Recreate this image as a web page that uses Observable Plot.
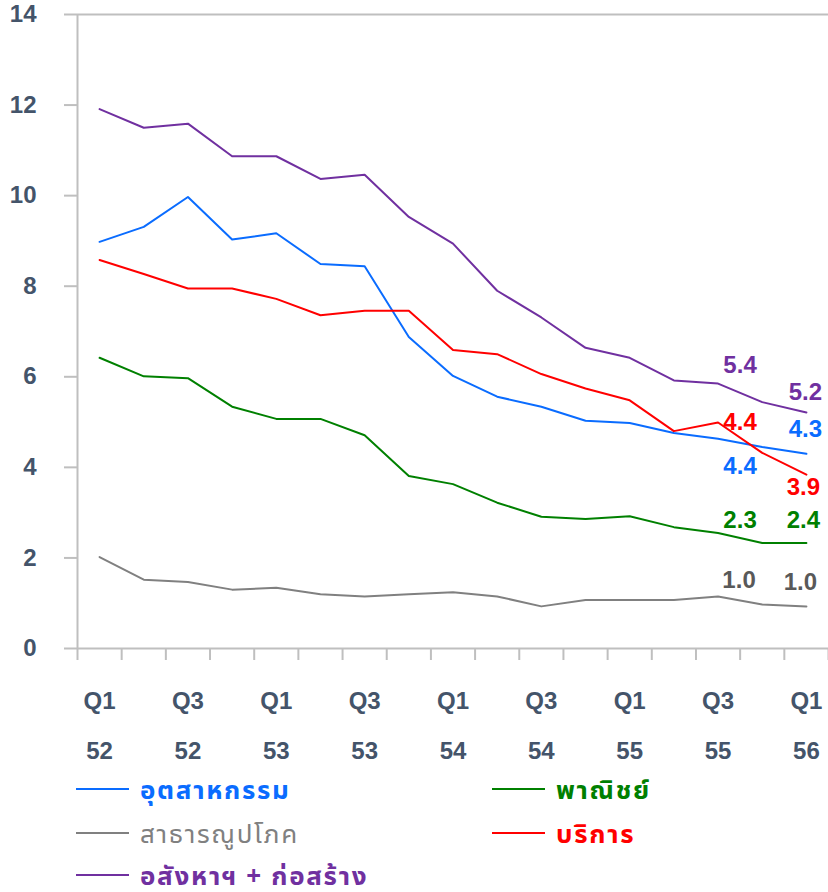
<!DOCTYPE html>
<html><head><meta charset="utf-8">
<script src="https://cdn.jsdelivr.net/npm/d3@7"></script>
<script src="https://cdn.jsdelivr.net/npm/@observablehq/plot@0.6"></script>
<style>
html,body{margin:0;padding:0;background:#fff;}
body{width:828px;height:892px;overflow:hidden;font-family:"Liberation Sans",Arial,sans-serif;}
#chart svg{display:block;}
#legend{position:relative;width:828px;height:126px;}
.item{position:absolute;height:24px;display:flex;align-items:center;font-weight:bold;font-size:26px;letter-spacing:1.7px;white-space:nowrap;font-family:"Noto Sans Thai UI","Noto Sans Thai","Noto Sans","Liberation Sans",sans-serif;}
.item span{display:block;height:24px;line-height:24px;}
.sw{width:53px;height:2px;margin-right:11px;flex:none;}
</style></head>
<body><div id="chart"></div><div id="legend"></div>
<script>
const quarters = ["Q1 52","Q2 52","Q3 52","Q4 52","Q1 53","Q2 53","Q3 53","Q4 53","Q1 54","Q2 54","Q3 54","Q4 54","Q1 55","Q2 55","Q3 55","Q4 55","Q1 56"];
const seriesNames = ["อุตสาหกรรม","พาณิชย์","สาธารณูปโภค","บริการ","อสังหาฯ + ก่อสร้าง"];
const seriesColors = ["#0A6CFF","#008000","#808080","#FF0000","#7030A0"];
const labelColors = ["#0A6CFF","#008000","#595959","#FF0000","#7030A0"];
const industry   = [8.98, 9.31, 9.97, 9.03, 9.17, 8.49, 8.44, 6.88, 6.02, 5.56, 5.34, 5.03, 4.98, 4.76, 4.63, 4.45, 4.30];
const commerce   = [6.42, 6.01, 5.97, 5.34, 5.07, 5.07, 4.71, 3.81, 3.63, 3.22, 2.91, 2.86, 2.92, 2.68, 2.55, 2.33, 2.33];
const utilities  = [2.02, 1.52, 1.47, 1.30, 1.34, 1.20, 1.15, 1.20, 1.24, 1.15, 0.93, 1.07, 1.07, 1.07, 1.15, 0.97, 0.93];
const services   = [8.58, 8.27, 7.95, 7.95, 7.72, 7.36, 7.46, 7.46, 6.59, 6.50, 6.06, 5.74, 5.48, 4.80, 4.99, 4.32, 3.84];
const realEstate = [11.91, 11.50, 11.59, 10.87, 10.87, 10.37, 10.46, 9.53, 8.94, 7.90, 7.31, 6.64, 6.42, 5.92, 5.85, 5.44, 5.21];
const labelIndex = [14, 16];
const industryLabels   = ["4.4","4.3"];
const commerceLabels   = ["2.3","2.4"];
const utilitiesLabels  = ["1.0","1.0"];
const servicesLabels   = ["4.4","3.9"];
const realEstateLabels = ["5.4","5.2"];
const yTicks = [0,2,4,6,8,10,12,14];
const xLabelTicks = [0,2,4,6,8,10,12,14,16];

const allSeries = [industry, commerce, utilities, services, realEstate];
const allLabels = [industryLabels, commerceLabels, utilitiesLabels, servicesLabels, realEstateLabels];
const rows = [];
allSeries.forEach((vals, s) => vals.forEach((v, i) => rows.push({s: seriesNames[s], i, v})));

// label offsets [dx, dy] per series per label (layout only)
const offsets = [
  [[22, 27], [-1, -24]],
  [[22, -13], [-3, -23]],
  [[21, -16], [-6, -24]],
  [[22, 0], [-3, 13]],
  [[22, -18], [-1, -20]]
];
const labelMarks = [];
allLabels.forEach((labs, s) => {
  labs.forEach((t, k) => {
    const i = labelIndex[k];
    labelMarks.push(Plot.text([{i, v: allSeries[s][i], t}], {
      x: "i", y: "v", text: "t", dx: offsets[s][k][0], dy: offsets[s][k][1],
      fill: labelColors[s], fontSize: 24, fontWeight: "bold"
    }));
  });
});

const boundaries = d3.range(-0.5, 17, 1);

const chart = Plot.plot({
  width: 828, height: 766,
  marginLeft: 77, marginRight: 0, marginTop: 14, marginBottom: 118,
  style: {fontFamily: "'Liberation Sans', Arial, sans-serif", background: "#fff"},
  x: {type: "linear", domain: [-0.5, 16.5]},
  y: {domain: [0, 14]},
  color: {domain: seriesNames, range: seriesColors},
  marks: [
    Plot.axisY({ticks: yTicks, tickSize: 13, tickPadding: 28, stroke: "#BFBFBF", strokeWidth: 2, fill: "#44546A", fontSize: 24, fontWeight: "bold", label: null}),
    Plot.axisX({ticks: boundaries, tickSize: 12, tickFormat: () => "", stroke: "#BFBFBF", strokeWidth: 2, label: null}),
    Plot.axisX({ticks: xLabelTicks, tickSize: 0, tickPadding: 43, tickFormat: i => quarters[i].split(" ")[0], fill: "#44546A", fontSize: 24, fontWeight: "bold", label: null}),
    Plot.axisX({ticks: xLabelTicks, tickSize: 0, tickPadding: 93, tickFormat: i => quarters[i].split(" ")[1], fill: "#44546A", fontSize: 24, fontWeight: "bold", label: null}),
    Plot.ruleX([-0.5], {stroke: "#BFBFBF", strokeWidth: 2}),
    Plot.ruleY([0, 14], {stroke: "#BFBFBF", strokeWidth: 2}),
    Plot.line(rows, {x: "i", y: "v", z: "s", stroke: "s", strokeWidth: 2}),
    ...labelMarks
  ]
});
document.getElementById("chart").appendChild(chart);

const legend = document.getElementById("legend");
const legendPos = [[76,11],[492,11],[76,55],[492,55],[76,97]];
seriesNames.forEach((name, s) => {
  const d = document.createElement("div");
  d.className = "item";
  d.style.left = legendPos[s][0] + "px";
  d.style.top = legendPos[s][1] + "px";
  d.style.color = seriesColors[s];
  const sw = document.createElement("div");
  sw.className = "sw";
  sw.style.background = seriesColors[s];
  d.appendChild(sw);
  const t = document.createElement("span");
  t.textContent = name;
  if (s === 2) t.style.fontWeight = "normal";
  d.appendChild(t);
  legend.appendChild(d);
});
</script>
</body></html>
